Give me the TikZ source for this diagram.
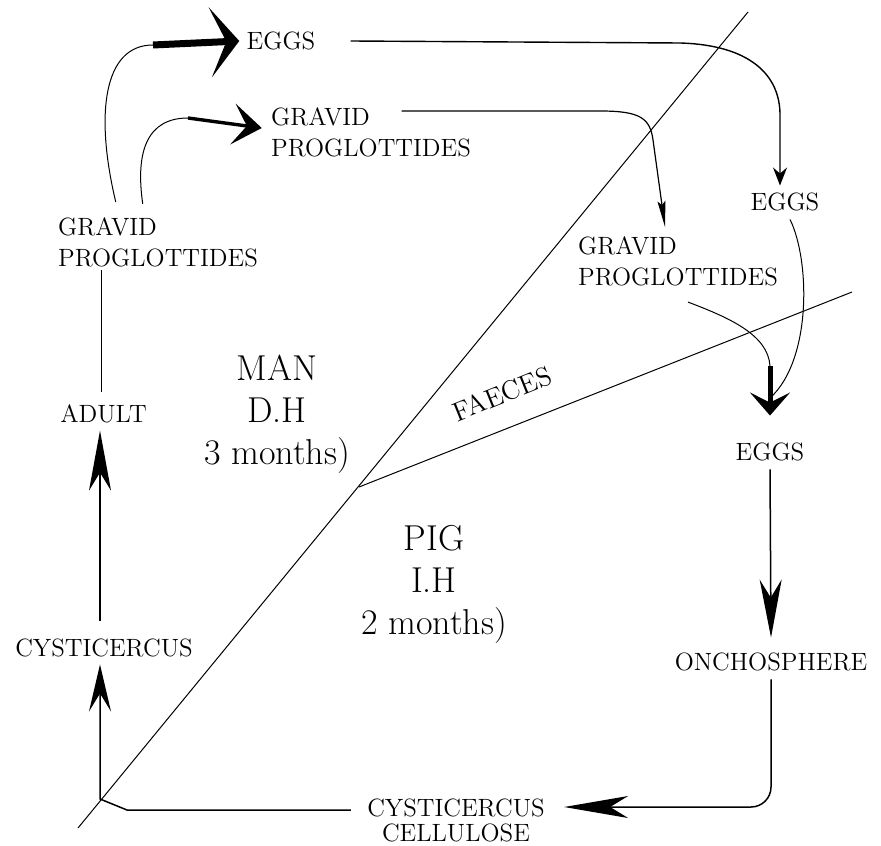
\documentclass[tikz,border=0pt]{standalone}
\usetikzlibrary{arrows.meta, calc}

\begin{document}
\begin{tikzpicture}[
    x=0.5pt, y=-0.5pt,
    % Estilos de nodos
    txt/.style={
        font=\fontsize{12.5}{15.5}\selectfont, inner sep=1.5pt, align=left
    },
    host/.style={
        font=\fontsize{18}{21}\selectfont, inner sep=1.5pt, align=center
    },
    % Estilos de lineas
    thinline/.style={line width=0.5pt},
    heavyA/.style={-{Stealth[length=14.5pt, width=35pt, inset=8pt]}, line width=3.5pt},
    heavyB/.style={-{Stealth[length=14.5pt, width=20.5pt, inset=7pt]}, line width=1.7pt},
    heavyC/.style={-{Stealth[length=11.5pt, width=20pt, inset=5pt]}, line width=2.5pt},
    smalltip/.style={-{Stealth[length=9pt, width=7pt, inset=3pt]}, line width=0.7pt},
    needletip/.style={-{Stealth[length=13pt, width=4pt, inset=2pt]}, line width=0.6pt},
    longtip/.style={-{Stealth[length=#1, width=11pt, inset=9pt]}, line width=0.75pt}
]
\useasboundingbox (0,0) rectangle (881,845);

% ════════════════════════════════════════
% LINEAS de separacion (hospedadores)
% ════════════════════════════════════════
\coordinate (dA) at (78,828);
\coordinate (dB) at (748,12);
\coordinate (fJ) at (359,487);
\coordinate (fE) at (852,292);
\draw[thinline] (dA) -- (dB);
\draw[thinline] (fJ) -- (fE);

% ════════════════════════════════════════
% NODOS del ciclo
% ════════════════════════════════════════
\node[txt] (eggsA)   at (281,41)    {EGGS};
\node[txt] (gpTop)   at (371,132)   {GRAVID\\PROGLOTTIDES};
\node[txt] (gpLeft)  at (158,242)   {GRAVID\\PROGLOTTIDES};
\node[txt] (adult)   at (103.5,414) {ADULT};
\node[txt] (cyst)    at (104,648)   {CYSTICERCUS};
\node[txt] (eggsB)   at (785,202)   {EGGS};
\node[txt] (gpRight) at (678,261)   {GRAVID\\PROGLOTTIDES};
\node[txt] (eggsC)   at (770,452)   {EGGS};
\node[txt] (onch)    at (771,662)   {ONCHOSPHERE};
\node[txt, align=center, font=\fontsize{12.5}{12.5}\selectfont]
           (ccell)   at (456,820)   {CYSTICERCUS\\CELLULOSE};

% ════════════════════════════════════════
% ETIQUETAS de hospedador
% ════════════════════════════════════════
\node[host] (man) at (277,414) {MAN\\D.H\\3 months)};
\node[host] (pig) at (434,584) {PIG\\I.H\\2 months)};
\node[txt, rotate=22, font=\fontsize{13.5}{15}\selectfont] (faeces) at (502,394) {FAECES};

% ════════════════════════════════════════
% FLECHAS en el hombre
% ════════════════════════════════════════
% Gravid (izq) -> Eggs
\coordinate (kA) at (153,45);
\draw[thinline] ([xshift=30.5pt,yshift=6pt]gpLeft.north west)
    .. controls (95,115) and (103,45) .. (kA);
\draw[heavyA] (kA) -- ([xshift=-2pt]eggsA.west);
% Gravid (izq) -> Gravid (arriba)
\coordinate (kB) at (188,118);
\draw[thinline] ([xshift=44pt,yshift=5pt]gpLeft.north west)
    .. controls (135,150) and (148,118) .. (kB);
\draw[heavyB] (kB) -- ([xshift=-3pt,yshift=2pt]gpTop.west);
% Adult -> Gravid (izq)
\draw[thinline] ($(adult.north)+(-2.5,-9)$) coordinate (kF) -- (kF |- gpLeft.south);

% ════════════════════════════════════════
% FLECHAS hacia las heces
% ════════════════════════════════════════
% Eggs -> Eggs (der)
\draw[smalltip] ([xshift=16pt]eggsA.east) -- (680,43)
    .. controls (750,45) and (780,75) .. (780,115)
    -- ([xshift=-2.5pt,yshift=2pt]eggsB.north);
% Gravid (arriba) -> Gravid (der)
\draw[needletip] ($(gpTop.north west)+(134,7)$) -- (600,111)
    .. controls (640,111) and (650,118) .. (653,140)
    -- ([xshift=-6.5pt,yshift=3pt]gpRight.north);
% Gravid (der) -> Eggs (abajo)
\coordinate (kC) at (770,366);
\draw[thinline] ([xshift=5pt,yshift=-6.5pt]gpRight.south)
    .. controls (730,318) and (768,335) .. (kC);
\draw[heavyC] (kC) -- ([yshift=12pt]eggsC.north);
% Eggs (der) -> Eggs (abajo)
\coordinate (kD) at (770,398);
\draw[thinline] ([xshift=2.5pt,yshift=-2.5pt]eggsB.south)
    .. controls (810,260) and (812,360) .. (kD);

% ════════════════════════════════════════
% FLECHAS en el cerdo
% ════════════════════════════════════════
\draw[longtip=29pt] ([yshift=-2.5pt]eggsC.south) -- ([yshift=6pt]onch.north);
\draw[longtip=32pt, rounded corners=10pt] ([yshift=-2.5pt]onch.south)
    |- ([shift={(8pt,6.5pt)}]ccell.east);
\coordinate (kE) at (100,799);
\draw[longtip=23.5pt] ([shift={(-6.5pt,5pt)}]ccell.west) -- (127,810) -- (kE)
    -- ($(kE |- cyst.south)+(0,4)$);
\draw[longtip=30pt] ($(cyst.north)+(-4,-15)$) -- ($(adult.south)+(-3.5,4)$);

\end{tikzpicture}
\end{document}
